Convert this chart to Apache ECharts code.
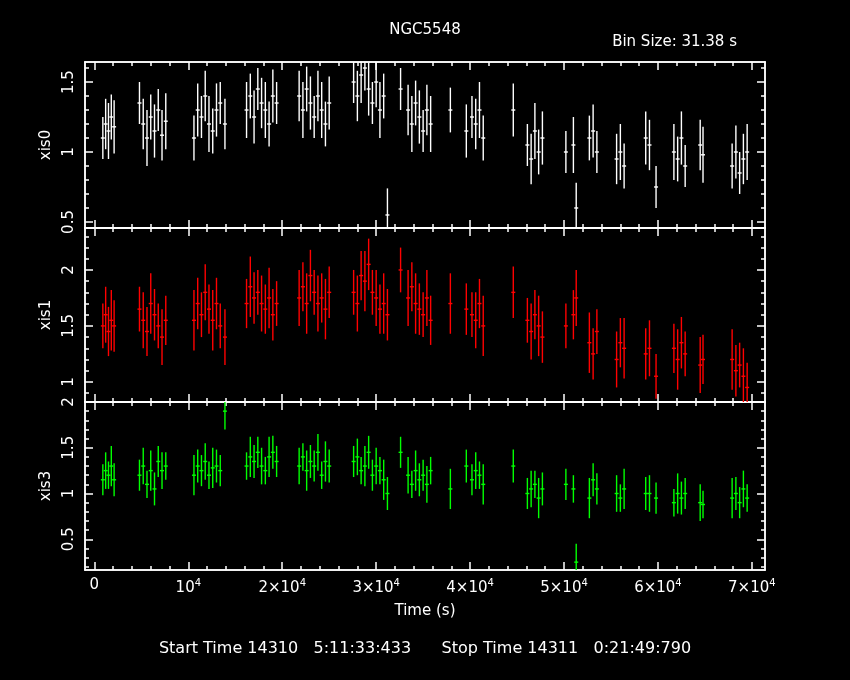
<!DOCTYPE html>
<html><head><meta charset="utf-8">
<script src="https://cdn.jsdelivr.net/npm/echarts@6/dist/echarts.min.js"></script>
<style>html,body{margin:0;background:#000}#c{width:850px;height:680px}</style>
</head><body><div id="c"></div>
<script>
const time=[900,1200,1500,1800,2100,
4800,5200,5600,6000,6400,6800,7200,7600,
10600,11000,11400,11800,12200,12600,13000,13400,13900,
16200,16600,17000,17400,17800,18200,18600,19000,19400,
21800,22200,22600,23000,23400,23800,24200,24600,25000,
27600,28000,28400,28800,29200,29600,30000,30400,30800,31200,
32600,33400,33800,34200,34600,35000,35400,35800,
37900,39600,40200,40600,41000,41400,
44600,46100,46500,46900,47300,47700,
50200,51300,51000,52700,53100,53500,
55600,56000,56400,58700,59800,59100,
61700,62100,62500,62900,64500,64800,
67900,68300,68700,69100,69500];
const xis0=[1.10,1.20,1.15,1.25,1.18,
1.35,1.20,1.10,1.25,1.15,1.30,1.12,1.22,
1.10,1.30,1.25,1.40,1.20,1.15,1.30,1.35,1.20,
1.30,1.40,1.25,1.45,1.35,1.30,1.20,1.40,1.35,
1.40,1.30,1.45,1.35,1.25,1.40,1.30,1.20,1.35,
1.50,1.40,1.55,1.60,1.45,1.35,1.50,1.30,1.40,0.55,
1.45,1.30,1.20,1.35,1.25,1.15,1.30,1.20,
1.30,1.15,1.25,1.20,1.30,1.10,
1.30,1.05,0.95,1.15,1.00,1.10,
1.00,0.60,1.05,1.10,1.15,1.00,
0.95,1.00,0.90,1.10,0.75,1.05,
1.00,0.95,1.10,0.90,1.05,0.98,
0.90,1.00,0.85,0.95,1.00];
const xis1=[1.50,1.60,1.45,1.55,1.50,
1.65,1.55,1.45,1.70,1.60,1.50,1.40,1.55,
1.55,1.70,1.60,1.80,1.65,1.55,1.70,1.50,1.40,
1.70,1.85,1.75,1.80,1.70,1.65,1.75,1.60,1.70,
1.75,1.85,1.70,1.95,1.80,1.70,1.75,1.65,1.80,
1.80,1.70,1.95,1.90,2.05,1.80,1.75,1.65,1.70,1.60,
2.00,1.75,1.85,1.70,1.65,1.60,1.75,1.55,
1.70,1.65,1.60,1.55,1.70,1.50,
1.80,1.55,1.45,1.60,1.50,1.40,
1.50,1.75,1.60,1.35,1.25,1.45,
1.20,1.35,1.30,1.25,1.05,1.30,
1.30,1.20,1.35,1.25,1.15,1.20,
1.20,1.10,1.15,1.05,0.95];
const xis3=[1.15,1.25,1.20,1.30,1.15,
1.20,1.30,1.10,1.25,1.05,1.35,1.25,1.30,
1.20,1.30,1.25,1.35,1.20,1.28,1.30,1.25,1.90,
1.30,1.40,1.35,1.45,1.30,1.25,1.40,1.45,1.35,
1.30,1.40,1.25,1.35,1.30,1.45,1.20,1.35,1.30,
1.35,1.40,1.25,1.30,1.45,1.20,1.30,1.25,1.15,1.00,
1.45,1.20,1.10,1.25,1.15,1.20,1.10,1.25,
1.05,1.30,1.15,1.25,1.20,1.10,
1.30,1.00,1.05,1.10,0.95,1.05,
1.10,0.25,1.05,0.95,1.15,1.05,
1.00,0.95,1.05,1.00,0.95,1.00,
0.90,1.00,0.95,1.00,0.90,0.88,
0.95,1.00,0.90,1.05,0.95];
const err0=[0.15,0.18,0.20,0.16,0.19];
const err1=[0.20,0.25,0.22,0.27,0.23];
const err3=[0.17,0.20,0.15,0.22,0.18];
const xMajor=[0,10000,20000,30000,40000,50000,60000,70000];
const xMinor=[2000,4000,6000,8000,12000,14000,16000,18000,22000,24000,26000,28000,32000,34000,36000,38000,42000,44000,46000,48000,52000,54000,56000,58000,62000,64000,66000,68000];
const yMajor=[[0.5,1,1.5],[1,1.5,2],[0.5,1,1.5,2]];
const yMinor=[[0.5,0.6,0.7,0.8,0.9,1.1,1.2,1.3,1.4,1.6],
[0.9,1.1,1.2,1.3,1.4,1.6,1.7,1.8,1.9,2.1,2.2,2.3],
[0.2,0.3,0.4,0.6,0.7,0.8,0.9,1.1,1.2,1.3,1.4,1.6,1.7,1.8,1.9]];
const yRange=[[0.457,1.643],[0.82,2.375],[0.164,2.0]];
const names=['xis0','xis1','xis3'];
const colors=['#ffffff','#ff0000','#00ff00'];
const vals=[xis0,xis1,xis3];
const errs=[err0,err1,err3];

const tops=[62,228,402], hts=[166,174,168];
const grid=[],xAxis=[],yAxis=[],series=[];
const W='#ffffff';
function sup(v){if(v===0)return '0';const m=v/10000;return (m===1?'':m+'×')+'10{s|4}';}
for(let g=0;g<3;g++){
  grid.push({left:85,right:85,top:tops[g],height:hts[g],show:false});
  const base={type:'value',gridIndex:g,min:-1000,max:71400,splitLine:{show:false},axisLine:{show:true,onZero:false,lineStyle:{color:W,width:1.5}}};
  [['bottom',xMajor,8],['top',xMajor,8],['bottom',xMinor,4],['top',xMinor,4]].forEach(([pos,vs,len],k)=>{
    xAxis.push(Object.assign({},base,{position:pos,
      axisTick:{inside:true,length:len,lineStyle:{color:W,width:1.5},customValues:vs},
      axisLabel:{show:(g===2&&k===0),customValues:xMajor,color:W,fontSize:15,fontFamily:'DejaVu Sans',margin:8,
        formatter:sup,rich:{s:{fontSize:10,verticalAlign:'top',padding:[0,0,10,0],color:W}}},
      name:(g===2&&k===0)?'Time (s)':'',nameLocation:'middle',nameGap:34,nameTextStyle:{color:W,fontSize:15,fontFamily:'DejaVu Sans'}}));
  });
  const yb={type:'value',gridIndex:g,min:yRange[g][0],max:yRange[g][1],splitLine:{show:false},axisLine:{show:true,onZero:false,lineStyle:{color:W,width:1.5}}};
  [['left',yMajor[g],8],['right',yMajor[g],8],['left',yMinor[g],4],['right',yMinor[g],4]].forEach(([pos,vs,len],k)=>{
    yAxis.push(Object.assign({},yb,{position:pos,
      axisTick:{inside:true,length:len,lineStyle:{color:W,width:1.5},customValues:vs},
      axisLabel:{show:k===0,customValues:yMajor[g],rotate:90,color:W,fontSize:15,fontFamily:'DejaVu Sans',margin:8,formatter:v=>String(v)},
      name:k===0?names[g]:'',nameLocation:'middle',nameGap:30,nameRotate:90,nameTextStyle:{color:W,fontSize:15,fontFamily:'DejaVu Sans'}}));
  });
  const data=time.map((t,i)=>[t,vals[g][i],errs[g][i%5]]);
  series.push({type:'custom',xAxisIndex:g*4,yAxisIndex:g*4,clip:true,data,
    renderItem:(p,api)=>{
      const t=api.value(0),v=api.value(1),e=api.value(2);
      const a=api.coord([t,v+e]),b=api.coord([t,v-e]),c=api.coord([t,v]);
      const st={stroke:colors[g],lineWidth:1.4};
      return {type:'group',children:[
        {type:'line',shape:{x1:a[0],y1:a[1],x2:b[0],y2:b[1]},style:st},
        {type:'line',shape:{x1:c[0]-2,y1:c[1],x2:c[0]+2,y2:c[1]},style:st}]};
    }});
}
const chart=echarts.init(document.getElementById('c'));
chart.setOption({backgroundColor:'#000',animation:false,grid,xAxis,yAxis,series,
  title:[{text:'NGC5548',left:'center',top:18,textStyle:{color:W,fontSize:15,fontWeight:'normal',fontFamily:'DejaVu Sans'}},
    {text:'Bin Size: 31.38 s',right:108,top:30,textStyle:{color:W,fontSize:15,fontWeight:'normal',fontFamily:'DejaVu Sans'}},
    {text:'Start Time 14310   5:11:33:433      Stop Time 14311   0:21:49:790',left:'center',top:636,textStyle:{color:W,fontSize:16,fontWeight:'normal',fontFamily:'DejaVu Sans'}}]});
</script></body></html>
